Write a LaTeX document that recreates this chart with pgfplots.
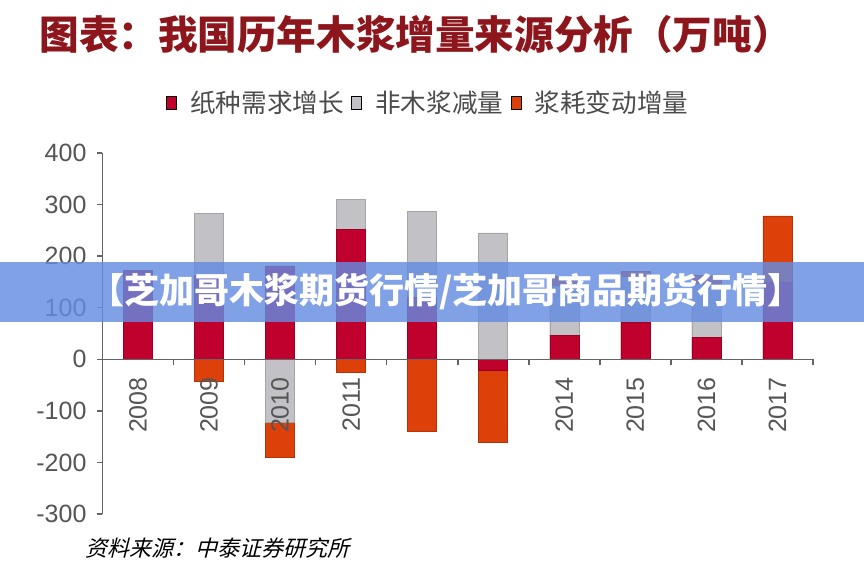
\documentclass[border=0pt]{standalone}
\usepackage{pgfplots}
\pgfplotsset{compat=1.18}
\usepackage{fontspec}
\setmainfont{Liberation Sans}
\newfontfamily\cjk{Noto Sans CJK SC}
\newfontfamily\cjkslant[FakeSlant=0.25]{Noto Sans CJK SC}
\definecolor{cRed}{RGB}{192,0,45}
\definecolor{cGray}{RGB}{194,194,198}
\definecolor{cOrange}{RGB}{222,64,10}
\definecolor{cTitle}{RGB}{140,22,28}
\definecolor{cText}{RGB}{75,75,75}
\definecolor{cTick}{RGB}{85,85,85}
\definecolor{cAxis}{RGB}{100,100,100}
\definecolor{cBanner}{RGB}{100,140,225}
\begin{document}
\begin{tikzpicture}
\path[use as bounding box] (0,0) rectangle (432pt,293pt);
\node[anchor=west, text=cTitle, inner sep=0pt] at (19.5pt,276pt) {\cjk\bfseries\fontsize{19.8}{22}\selectfont 图表：我国历年木浆增量来源分析（万吨）};
\begin{axis}[
  at={(51.25pt,36pt)}, anchor=south west,
  scale only axis, width=355.25pt, height=180.5pt,
  xmin=-0.5, xmax=9.5, ymin=-300, ymax=400,
  axis x line*=middle, axis y line*=left,
  axis line style={cAxis, line width=0.75pt},
  axis on top,
  xtick={0,...,9},
  xticklabels={2008,2009,2010,2011,,,2014,2015,2016,2017},
  minor xtick={0.5,1.5,...,9.5},
  ytick={-300,-200,...,400},
  tick align=outside,
  major tick length=2.5pt, minor tick length=3pt,
  x tick style={draw=none},
  minor x tick style={draw=cAxis, line width=0.75pt},
  y tick style={draw=cAxis, line width=0.75pt},
  tick label style={font=\fontsize{12.5}{14}\selectfont, text=cTick},
  /pgf/number format/assume math mode=true,
  xticklabel style={rotate=90, anchor=east, xshift=-3pt},
  yticklabel style={xshift=-2pt},
  legend style={at={(rel axis cs:0.46,1.138)}, anchor=center, draw=none, fill=none,
    legend columns=3, font=\cjk\fontsize{12.8}{14}\selectfont, text=cText,
    /tikz/every odd column/.append style={column sep=4.5pt},
    /tikz/every even column/.append style={column sep=1.8pt}},
  legend image code/.code={\fill[#1] (0pt,-3.3pt) rectangle (5pt,3.3pt);},
  clip=false,
]
\addlegendimage{fill=cRed}
\addlegendentry{纸种需求增长}
\addlegendimage{fill=cGray}
\addlegendentry{非木浆减量}
\addlegendimage{fill=cOrange}
\addlegendentry{浆耗变动增量}
% positive side: cumulative tops, drawn from outer to inner
\addplot[ybar, bar shift=0pt, bar width=14.5pt, fill=cOrange, draw=cOrange!80!black, line width=0.3pt, forget plot]
  coordinates {(6,161) (7,171) (8,163) (9,278)};
\addplot[ybar, bar shift=0pt, bar width=14.5pt, fill=cGray, draw=cGray!85!black, line width=0.3pt, forget plot]
  coordinates {(1,283) (3,310) (4,287) (5,245) (6,142) (7,159) (8,146)};
\addplot[ybar, bar shift=0pt, bar width=14.5pt, fill=cRed, draw=cRed!80!black, line width=0.3pt, forget plot]
  coordinates {(0,173) (1,163) (2,181) (3,252) (4,120) (6,47) (7,72) (8,43) (9,150)};
% negative side: cumulative bottoms
\addplot[ybar, bar shift=0pt, bar width=14.5pt, fill=cOrange, draw=cOrange!80!black, line width=0.3pt, forget plot]
  coordinates {(1,-42) (2,-190) (3,-25) (4,-140) (5,-160)};
\addplot[ybar, bar shift=0pt, bar width=14.5pt, fill=cGray, draw=cGray!85!black, line width=0.3pt, forget plot]
  coordinates {(2,-122)};
\addplot[ybar, bar shift=0pt, bar width=14.5pt, fill=cRed, draw=cRed!80!black, line width=0.3pt, forget plot]
  coordinates {(5,-22)};
\end{axis}
\node[anchor=west, inner sep=0pt] at (42.5pt,19pt) {\cjkslant\fontsize{11}{13}\selectfont 资料来源：中泰证券研究所};
\fill[cBanner, opacity=0.82] (0pt,132pt) rectangle (432pt,162pt);
\node[text=white, inner sep=0pt] at (223pt,147pt) {\cjk\bfseries\fontsize{17.5}{20}\selectfont 【芝加哥木浆期货行情/芝加哥商品期货行情】};
\end{tikzpicture}
\end{document}
